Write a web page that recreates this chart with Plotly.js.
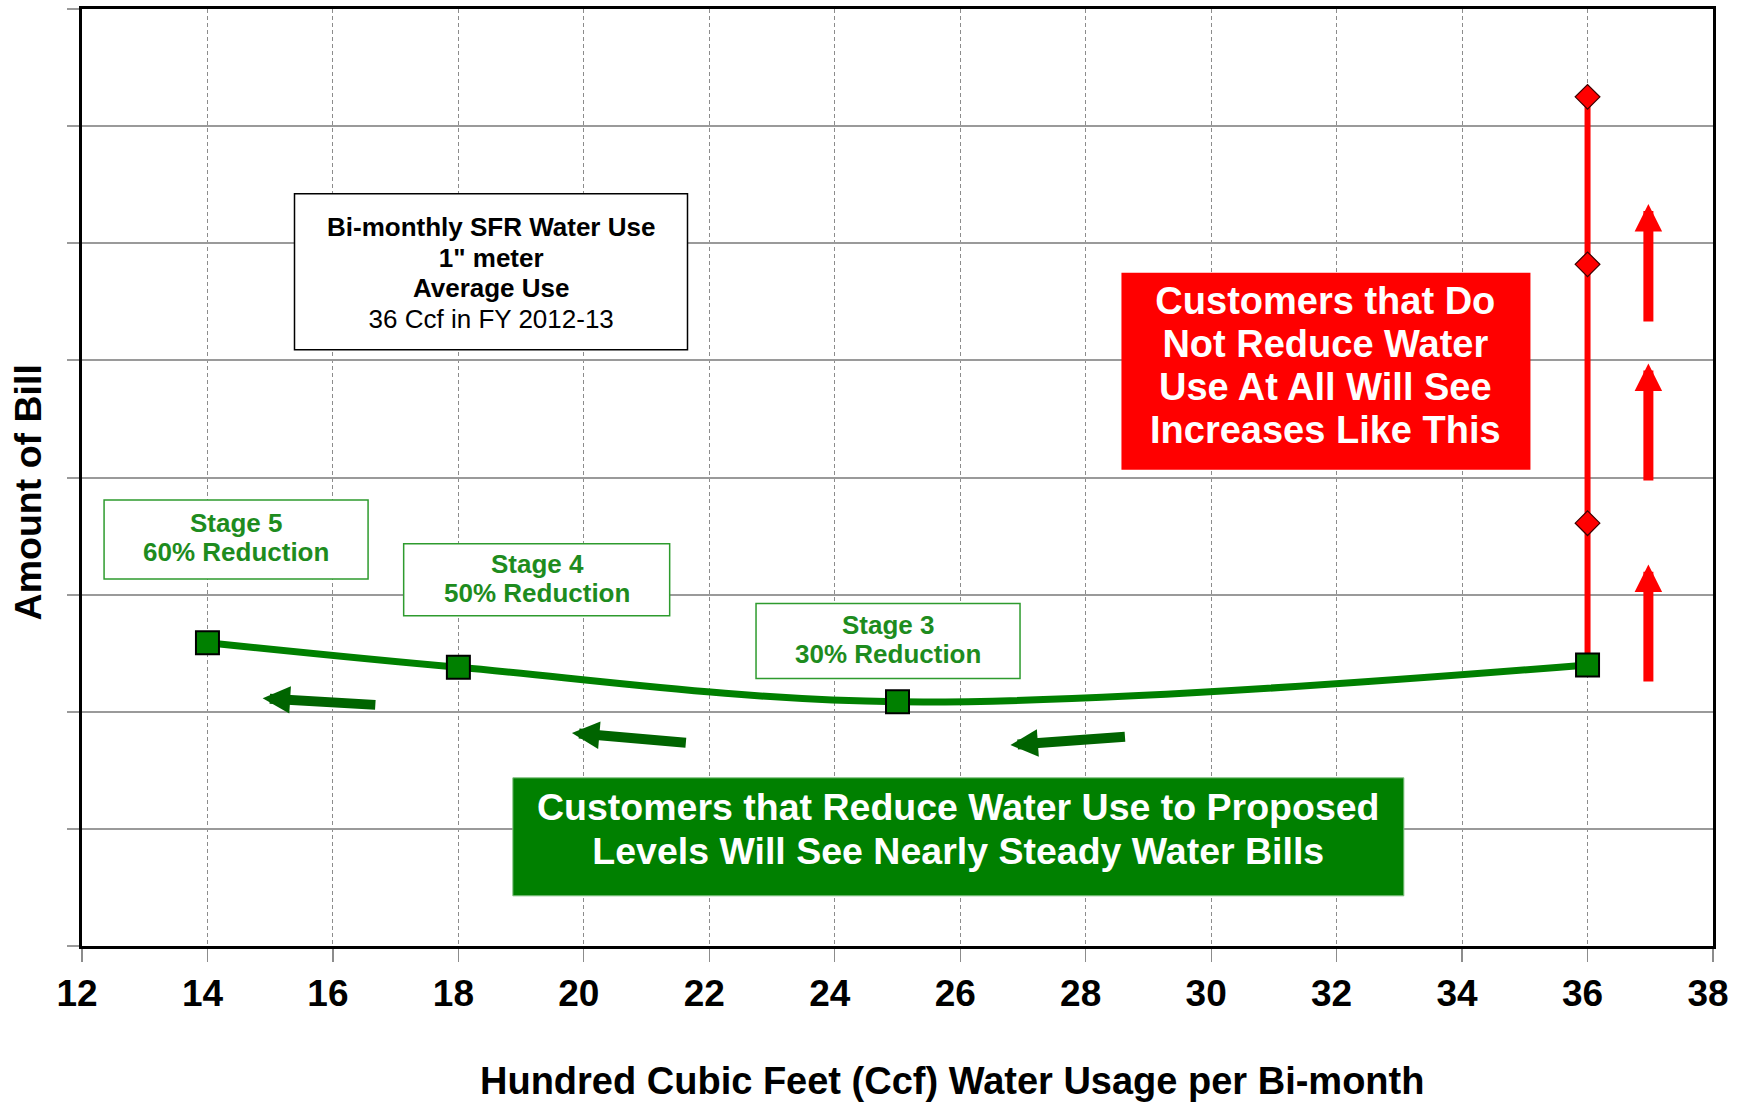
<!DOCTYPE html>
<html>
<head>
<meta charset="utf-8">
<script src="https://cdn.plot.ly/plotly-3.0.1.min.js"></script>
<style>html,body{margin:0;padding:0;background:#fff;}</style>
</head>
<body>
<div id="chart" style="width:1744px;height:1104px;"></div>
<script>
// ---- data ----
const xTicks = [12, 14, 16, 18, 20, 22, 24, 26, 28, 30, 32, 34, 36, 38];
const stageUsage = [14, 18, 25, 36];              // Ccf per bi-month
const stageBill = [2.59, 2.38, 2.085, 2.40];       // relative bill amount
const noReduceUsage = [36, 36, 36];
const noReduceBill = [3.61, 5.82, 7.25];
const upArrowX = 36.97;
const upArrowTail = [2.246, 3.962, 5.32];
const upArrowHead = [3.257, 4.974, 6.336];
const leftArrowTailX = [16.70, 21.65, 28.65];
const leftArrowTailY = [2.058, 1.734, 1.787];
const leftArrowHeadX = [14.88, 19.81, 26.80];
const leftArrowHeadY = [2.115, 1.819, 1.716];
const stageLabels = [['Stage 5', '60% Reduction'], ['Stage 4', '50% Reduction'], ['Stage 3', '30% Reduction']];
const infoLines = ['<b>Bi-monthly SFR Water Use</b>', '<b>1" meter</b>', '<b>Average Use</b>', '36 Ccf in FY 2012-13'];
const redLines = ['Customers that Do', 'Not Reduce Water', 'Use At All Will See', 'Increases Like This'];
const greenLines = ['Customers that Reduce Water Use to Proposed', 'Levels Will See Nearly Steady Water Bills'];
const xTitle = 'Hundred Cubic Feet (Ccf) Water Usage per Bi-month';
const yTitle = 'Amount of Bill';

const FONT = 'Liberation Sans, Arial, Helvetica, sans-serif';
const GREEN = '#008000';
const DARKGREEN = '#006400';

const traces = [
  { // red vertical line from the unreduced bill upward
    x: [stageUsage[3]].concat(noReduceUsage),
    y: [stageBill[3]].concat(noReduceBill),
    mode: 'lines', line: {color: '#ff0000', width: 6},
    hoverinfo: 'skip', showlegend: false
  },
  {
    x: noReduceUsage, y: noReduceBill, mode: 'markers',
    marker: {symbol: 'diamond', size: 19, color: '#ff0000', line: {color: '#3a0000', width: 1.2}},
    showlegend: false
  },
  {
    x: stageUsage, y: stageBill, mode: 'lines+markers',
    line: {color: GREEN, width: 7, shape: 'spline', smoothing: 1},
    marker: {symbol: 'square', size: 23, color: GREEN, line: {color: '#000', width: 2}},
    showlegend: false
  }
];

function box(cx, cy, w, h, fill, lineColor, lw) {
  return {
    type: 'rect', xref: 'x', yref: 'y', xsizemode: 'pixel', ysizemode: 'pixel',
    xanchor: cx, yanchor: cy, x0: -w / 2, x1: w / 2, y0: -h / 2, y1: h / 2,
    fillcolor: fill, line: {color: lineColor, width: lw}, layer: 'above'
  };
}

const shapes = [
  box(18.52, 5.756, 393, 156, '#ffffff', '#000000', 1.5),
  box(14.456, 3.471, 264, 79, '#ffffff', '#2e9b2e', 1.5),
  box(19.248, 3.127, 266, 72, '#ffffff', '#2e9b2e', 1.5),
  box(24.849, 2.605, 264, 75, '#ffffff', '#2e9b2e', 1.5),
  box(31.83, 4.907, 409, 197, '#ff0000', '#ff0000', 0),
  box(25.97, 0.932, 891, 118, '#008000', '#7fbf7f', 1)
];

function spanLines(lines, size) {
  return lines.map(l => '<span style="font-size:' + size + 'px">' + l + '</span>').join('<br>');
}

const annotations = [];
function txt(x, y, text, size, color) {
  annotations.push({
    x: x, y: y, xref: 'x', yref: 'y', text: text, showarrow: false,
    xanchor: 'center', yanchor: 'middle', align: 'center',
    font: {family: FONT, size: size, color: color}
  });
}
txt(18.52, 5.747, spanLines(infoLines, 26), 23.5, '#000');
txt(14.456, 3.49, '<b>' + spanLines(stageLabels[0], 26) + '</b>', 22.5, '#1e8c1e');
txt(19.248, 3.14, '<b>' + spanLines(stageLabels[1], 26) + '</b>', 22.5, '#1e8c1e');
txt(24.849, 2.62, '<b>' + spanLines(stageLabels[2], 26) + '</b>', 22.5, '#1e8c1e');
txt(31.83, 4.955, '<b>' + spanLines(redLines, 38) + '</b>', 33, '#ffffff');
txt(25.97, 1.003, '<b>' + spanLines(greenLines, 37.5) + '</b>', 33.5, '#ffffff');

// axis titles
annotations.push({
  x: -0.0331, xref: 'paper', y: 3.873, yref: 'y', text: '<b>' + yTitle + '</b>',
  textangle: -90, showarrow: false, xanchor: 'center', yanchor: 'middle',
  font: {family: FONT, size: 37.5, color: '#000'}
});
annotations.push({
  x: 25.87, xref: 'x', y: -0.144, yref: 'paper', text: '<b>' + xTitle + '</b>',
  showarrow: false, xanchor: 'center', yanchor: 'middle',
  font: {family: FONT, size: 38, color: '#000'}
});

// arrows
for (let i = 0; i < upArrowTail.length; i++) {
  annotations.push({
    x: upArrowX, y: upArrowHead[i], ax: upArrowX, ay: upArrowTail[i],
    xref: 'x', yref: 'y', axref: 'x', ayref: 'y', text: '', showarrow: true,
    arrowhead: 2, arrowsize: 0.55, arrowwidth: 10, arrowcolor: '#ff0000', standoff: 0
  });
}
for (let i = 0; i < leftArrowTailX.length; i++) {
  annotations.push({
    x: leftArrowHeadX[i], y: leftArrowHeadY[i], ax: leftArrowTailX[i], ay: leftArrowTailY[i],
    xref: 'x', yref: 'y', axref: 'x', ayref: 'y', text: '', showarrow: true,
    arrowhead: 2, arrowsize: 0.55, arrowwidth: 10, arrowcolor: DARKGREEN, standoff: 0
  });
}

const layout = {
  width: 1744, height: 1104,
  margin: {l: 82, r: 31, t: 9, b: 158},
  paper_bgcolor: '#ffffff', plot_bgcolor: '#ffffff',
  showlegend: false,
  xaxis: {
    range: [12, 38], tickvals: xTicks, ticktext: xTicks.map(String),
    showgrid: true, gridcolor: '#8c8c8c', gridwidth: 1, griddash: '4px,3px',
    zeroline: false, showline: true, linecolor: '#000', linewidth: 3, mirror: true,
    ticks: 'outside', ticklen: 13, tickcolor: '#8c8c8c', tickwidth: 1.2,
    tickfont: {family: FONT, size: 37, color: '#000', weight: 'bold'},
    ticklabelshift: -5,
    fixedrange: true
  },
  yaxis: {
    range: [0, 8], dtick: 1, tick0: 0, showticklabels: false,
    showgrid: true, gridcolor: '#9a9a9a', gridwidth: 2,
    zeroline: false, showline: true, linecolor: '#000', linewidth: 3, mirror: true,
    ticks: 'outside', ticklen: 12, tickcolor: '#9a9a9a', tickwidth: 2,
    fixedrange: true
  },
  shapes: shapes,
  annotations: annotations
};

Plotly.newPlot('chart', traces, layout, {displayModeBar: false, staticPlot: true});
</script>
</body>
</html>
